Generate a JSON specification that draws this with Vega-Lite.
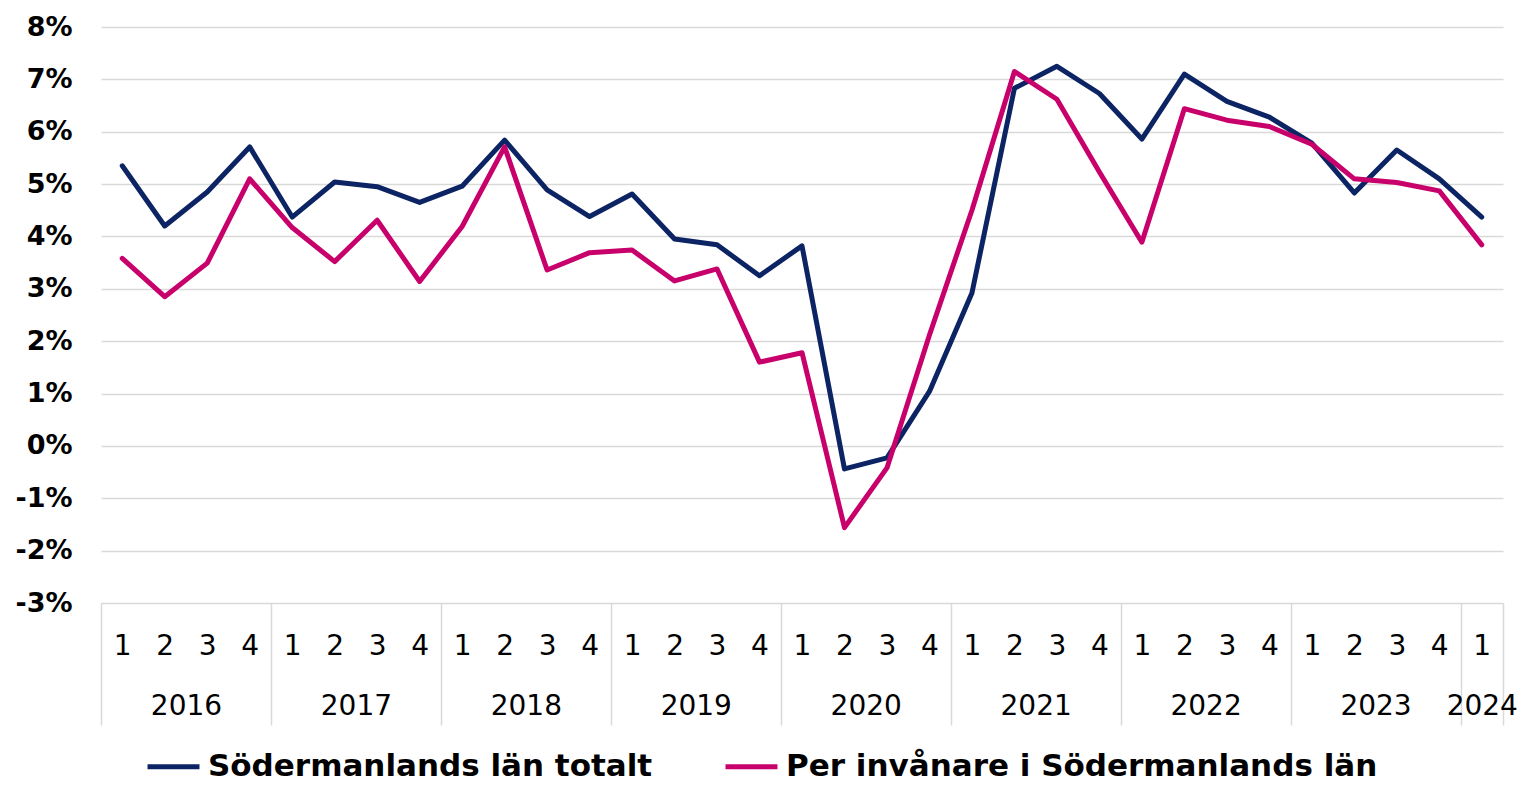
{
  "$schema": "https://vega.github.io/schema/vega-lite/v6.json",
  "autosize": {"type": "none"},
  "width": 1402,
  "height": 576,
  "padding": {"left": 101, "top": 27, "right": 18, "bottom": 182},
  "background": "white",
  "config": {
    "view": {"stroke": null},
    "font": "DejaVu Sans"
  },
  "data": {
    "values": [
      {"i": 1, "series": "Södermanlands län totalt", "value": 5.35},
      {"i": 2, "series": "Södermanlands län totalt", "value": 4.20},
      {"i": 3, "series": "Södermanlands län totalt", "value": 4.85},
      {"i": 4, "series": "Södermanlands län totalt", "value": 5.71},
      {"i": 5, "series": "Södermanlands län totalt", "value": 4.37},
      {"i": 6, "series": "Södermanlands län totalt", "value": 5.04},
      {"i": 7, "series": "Södermanlands län totalt", "value": 4.95},
      {"i": 8, "series": "Södermanlands län totalt", "value": 4.65},
      {"i": 9, "series": "Södermanlands län totalt", "value": 4.96},
      {"i": 10, "series": "Södermanlands län totalt", "value": 5.84},
      {"i": 11, "series": "Södermanlands län totalt", "value": 4.89},
      {"i": 12, "series": "Södermanlands län totalt", "value": 4.38},
      {"i": 13, "series": "Södermanlands län totalt", "value": 4.81},
      {"i": 14, "series": "Södermanlands län totalt", "value": 3.95},
      {"i": 15, "series": "Södermanlands län totalt", "value": 3.84},
      {"i": 16, "series": "Södermanlands län totalt", "value": 3.25},
      {"i": 17, "series": "Södermanlands län totalt", "value": 3.82},
      {"i": 18, "series": "Södermanlands län totalt", "value": -0.44},
      {"i": 19, "series": "Södermanlands län totalt", "value": -0.23},
      {"i": 20, "series": "Södermanlands län totalt", "value": 1.04},
      {"i": 21, "series": "Södermanlands län totalt", "value": 2.92},
      {"i": 22, "series": "Södermanlands län totalt", "value": 6.83},
      {"i": 23, "series": "Södermanlands län totalt", "value": 7.25},
      {"i": 24, "series": "Södermanlands län totalt", "value": 6.73},
      {"i": 25, "series": "Södermanlands län totalt", "value": 5.86},
      {"i": 26, "series": "Södermanlands län totalt", "value": 7.10},
      {"i": 27, "series": "Södermanlands län totalt", "value": 6.58},
      {"i": 28, "series": "Södermanlands län totalt", "value": 6.28},
      {"i": 29, "series": "Södermanlands län totalt", "value": 5.78},
      {"i": 30, "series": "Södermanlands län totalt", "value": 4.83},
      {"i": 31, "series": "Södermanlands län totalt", "value": 5.65},
      {"i": 32, "series": "Södermanlands län totalt", "value": 5.10},
      {"i": 33, "series": "Södermanlands län totalt", "value": 4.37},
      {"i": 1, "series": "Per invånare i Södermanlands län", "value": 3.58},
      {"i": 2, "series": "Per invånare i Södermanlands län", "value": 2.85},
      {"i": 3, "series": "Per invånare i Södermanlands län", "value": 3.49},
      {"i": 4, "series": "Per invånare i Södermanlands län", "value": 5.10},
      {"i": 5, "series": "Per invånare i Södermanlands län", "value": 4.17},
      {"i": 6, "series": "Per invånare i Södermanlands län", "value": 3.52},
      {"i": 7, "series": "Per invånare i Södermanlands län", "value": 4.31},
      {"i": 8, "series": "Per invånare i Södermanlands län", "value": 3.14},
      {"i": 9, "series": "Per invånare i Södermanlands län", "value": 4.19},
      {"i": 10, "series": "Per invånare i Södermanlands län", "value": 5.71},
      {"i": 11, "series": "Per invånare i Södermanlands län", "value": 3.36},
      {"i": 12, "series": "Per invånare i Södermanlands län", "value": 3.69},
      {"i": 13, "series": "Per invånare i Södermanlands län", "value": 3.74},
      {"i": 14, "series": "Per invånare i Södermanlands län", "value": 3.15},
      {"i": 15, "series": "Per invånare i Södermanlands län", "value": 3.38},
      {"i": 16, "series": "Per invånare i Södermanlands län", "value": 1.60},
      {"i": 17, "series": "Per invånare i Södermanlands län", "value": 1.78},
      {"i": 18, "series": "Per invånare i Södermanlands län", "value": -1.56},
      {"i": 19, "series": "Per invånare i Södermanlands län", "value": -0.42},
      {"i": 20, "series": "Per invånare i Södermanlands län", "value": 2.12},
      {"i": 21, "series": "Per invånare i Södermanlands län", "value": 4.50},
      {"i": 22, "series": "Per invånare i Södermanlands län", "value": 7.15},
      {"i": 23, "series": "Per invånare i Södermanlands län", "value": 6.62},
      {"i": 24, "series": "Per invånare i Södermanlands län", "value": 5.23},
      {"i": 25, "series": "Per invånare i Södermanlands län", "value": 3.89},
      {"i": 26, "series": "Per invånare i Södermanlands län", "value": 6.44},
      {"i": 27, "series": "Per invånare i Södermanlands län", "value": 6.22},
      {"i": 28, "series": "Per invånare i Södermanlands län", "value": 6.10},
      {"i": 29, "series": "Per invånare i Södermanlands län", "value": 5.76},
      {"i": 30, "series": "Per invånare i Södermanlands län", "value": 5.10},
      {"i": 31, "series": "Per invånare i Södermanlands län", "value": 5.03},
      {"i": 32, "series": "Per invånare i Södermanlands län", "value": 4.87},
      {"i": 33, "series": "Per invånare i Södermanlands län", "value": 3.84}
    ]
  },
  "resolve": {"scale": {"x": "shared"}, "axis": {"x": "independent"}},
  "layer": [
    {
      "mark": {"type": "rule", "opacity": 0},
      "encoding": {
        "x": {
          "field": "i", "type": "quantitative",
          "scale": {"domain": [0.5, 33.5], "nice": false, "zero": false},
          "axis": {
            "orient": "bottom", "title": null, "grid": false, "domain": false,
            "labels": false, "ticks": true, "tickSize": 122, "tickWidth": 1.5,
            "tickColor": "#d9d9d9",
            "values": [0.5, 4.5, 8.5, 12.5, 16.5, 20.5, 24.5, 28.5, 32.5, 33.5]
          }
        }
      }
    },
    {
      "mark": {"type": "rule", "opacity": 0},
      "encoding": {
        "x": {
          "field": "i", "type": "quantitative",
          "scale": {"domain": [0.5, 33.5], "nice": false, "zero": false},
          "axis": {
            "orient": "bottom", "title": null, "grid": false, "domain": false,
            "ticks": false, "tickSize": 0, "labelPadding": 89,
            "labelFont": "DejaVu Sans", "labelFontSize": 28, "labelColor": "#000000",
            "labelOverlap": false, "labelFlush": false,
            "values": [2.5, 6.5, 10.5, 14.5, 18.5, 22.5, 26.5, 30.5, 33],
            "labelExpr": "'' + (2016 + floor((datum.value - 1) / 4))"
          }
        }
      }
    },
    {
      "mark": {"type": "line", "strokeWidth": 5, "strokeCap": "round", "strokeJoin": "round"},
      "encoding": {
        "x": {
          "field": "i", "type": "quantitative",
          "scale": {"domain": [0.5, 33.5], "nice": false, "zero": false},
          "axis": {
            "orient": "bottom", "title": null, "grid": false, "domain": false,
            "ticks": false, "tickSize": 0, "labelPadding": 29,
            "labelFont": "DejaVu Sans", "labelFontSize": 28, "labelColor": "#000000",
            "labelOverlap": false, "labelFlush": false,
            "values": [1,2,3,4,5,6,7,8,9,10,11,12,13,14,15,16,17,18,19,20,21,22,23,24,25,26,27,28,29,30,31,32,33],
            "labelExpr": "'' + ((datum.value - 1) % 4 + 1)"
          }
        },
        "y": {
          "field": "value", "type": "quantitative",
          "scale": {"domain": [-3, 8], "nice": false, "zero": false},
          "axis": {
            "title": null, "domain": false, "ticks": false, "tickSize": 0,
            "labelPadding": 29, "grid": true, "gridColor": "#d9d9d9", "gridWidth": 1.5,
            "values": [-3, -2, -1, 0, 1, 2, 3, 4, 5, 6, 7, 8],
            "labelExpr": "datum.value + '%'",
            "labelFont": "DejaVu Sans", "labelFontWeight": "bold", "labelFontSize": 27,
            "labelColor": "#000000"
          }
        },
        "color": {
          "field": "series", "type": "nominal",
          "scale": {
            "domain": ["Södermanlands län totalt", "Per invånare i Södermanlands län"],
            "range": ["#0c2464", "#c8006b"]
          },
          "legend": {
            "title": null, "orient": "none", "direction": "horizontal",
            "legendX": 44, "legendY": 711,
            "symbolType": "stroke", "symbolSize": 2700, "symbolStrokeWidth": 5,
            "labelFont": "DejaVu Sans", "labelFontWeight": "bold", "labelFontSize": 31,
            "labelColor": "#000000", "labelOffset": 6, "columnPadding": 62,
            "labelLimit": 1000
          }
        },
        "order": {"field": "i"}
      }
    }
  ]
}
